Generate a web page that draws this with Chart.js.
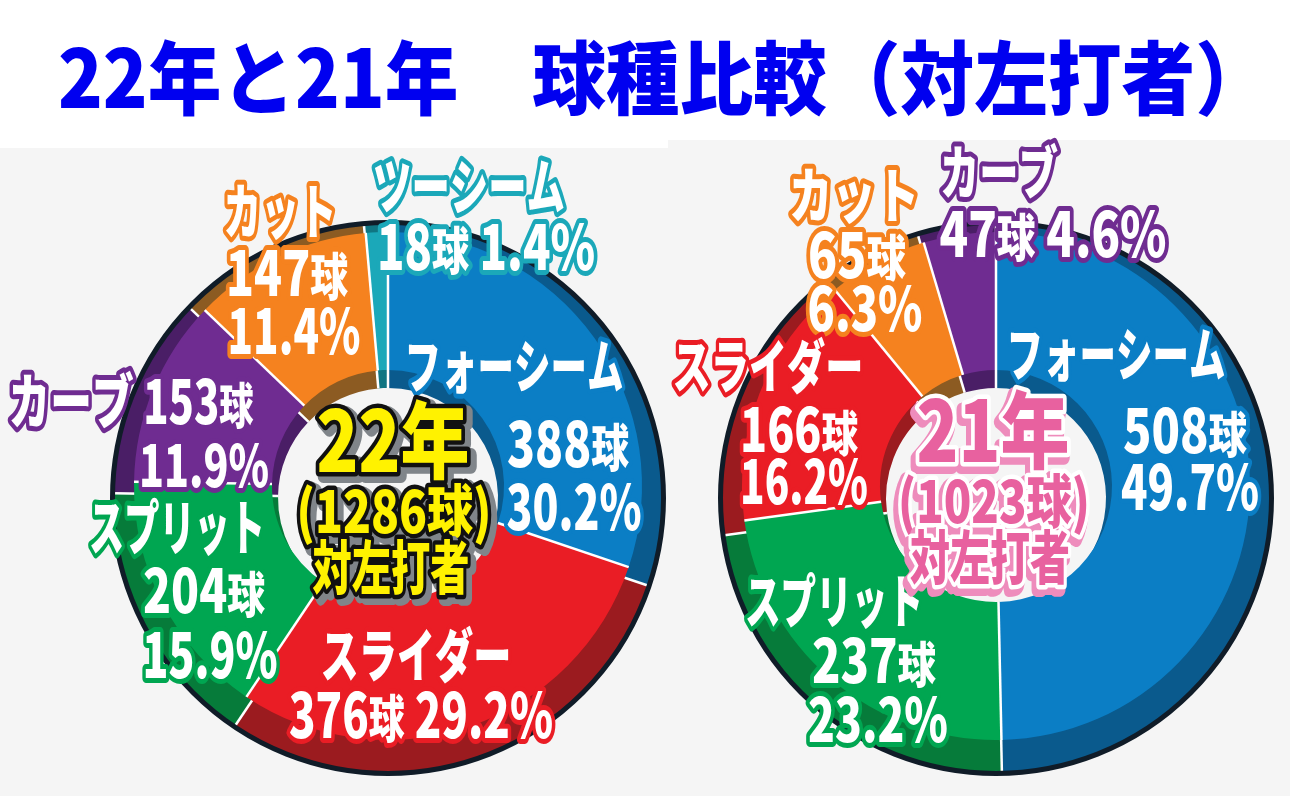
<!DOCTYPE html>
<html lang="ja">
<head>
<meta charset="utf-8">
<title>22年と21年 球種比較（対左打者）</title>
<script src="https://cdn.jsdelivr.net/npm/chart.js@4.4.0/dist/chart.umd.min.js"></script>
<style>
    html, body { margin: 0; padding: 0; background: #fff; }
    #wrap { position: relative; width: 1300px; height: 807px; overflow: hidden; background: #fff; }
    .panel { position: absolute; background: #f5f5f5; }
    #title {
        position: absolute; left: 58px; top: 28px; white-space: nowrap;
        font-family: "Noto Sans CJK JP", sans-serif; font-weight: 900;
        font-size: 80px; line-height: 90px; color: #0000f0; transform-origin: 0 0;
    }
    canvas { position: absolute; left: 0; top: 0; }
</style>
</head>
<body>
<div id="wrap">
    <div class="panel" style="left:0;top:148px;width:680px;height:648px"></div>
    <div class="panel" style="left:668px;top:140px;width:622px;height:656px"></div>
    <div id="title">22年と21年　球種比較（対左打者）</div>
    <canvas id="base22" width="1300" height="807"></canvas>
    <canvas id="face22" width="1300" height="807"></canvas>
    <canvas id="base21" width="1300" height="807"></canvas>
    <canvas id="face21" width="1300" height="807"></canvas>
</div>
<script>
// 22년 데이터 (12시 방향부터 시계방향)
const pitches22 = ['フォーシーム', 'スライダー', 'スプリット', 'カーブ', 'カット', 'ツーシーム'];
const counts22 = [388, 376, 204, 153, 147, 18];
const pcts22 = [30.2, 29.2, 15.9, 11.9, 11.4, 1.4];

// 21년 데이터
const pitches21 = ['フォーシーム', 'スプリット', 'スライダー', 'カット', 'カーブ'];
const counts21 = [508, 237, 166, 65, 47];
const pcts21 = [49.7, 23.2, 16.2, 6.3, 4.6];

const years = ['22', '21'];
const sideText = '対左打者';

// 구종별 색상 (윗면 / 어두운 옆면)
const faceColors = {
    'フォーシーム': '#0b7ec5',
    'スライダー': '#ea1d25',
    'スプリット': '#00a651',
    'カーブ': '#6f2c91',
    'カット': '#f5821f',
    'ツーシーム': '#1ba8b9'
};
const shadeColors = {
    'フォーシーム': '#0a5a8d',
    'スライダー': '#9b1b1f',
    'スプリット': '#067b3a',
    'カーブ': '#4a1e66',
    'カット': '#8c5b22',
    'ツーシーム': '#107582'
};

// 라벨 배치: [조각 번호, 내용, 중심x, 중심y, 폭, 글자크기]
const layout22 = [
    [4, 'name', 280, 212, 113, 60],
    [4, 'count', 287, 273, 122, 62],
    [4, 'pct', 294, 331, 133, 62],
    [5, 'name', 469, 187, 192, 60],
    [5, 'countPct', 486, 247, 218, 62],
    [0, 'name', 514, 367, 219, 58],
    [0, 'count', 568, 444, 122, 62],
    [0, 'pct', 574, 507, 135, 62],
    [3, 'nameCount', 131, 402, 245, 60],
    [3, 'pct', 204, 466, 130, 58],
    [2, 'name', 177, 528, 176, 60],
    [2, 'count', 204, 591, 122, 60],
    [2, 'pct', 210, 655, 135, 62],
    [1, 'name', 416, 656, 191, 58],
    [1, 'countPct', 421, 715, 264, 62]
];
const layout21 = [
    [3, 'name', 854, 196, 130, 60],
    [3, 'count', 857, 255, 98, 62],
    [3, 'pct', 865, 309, 115, 60],
    [4, 'name', 999, 173, 118, 58],
    [4, 'countPct', 1053, 234, 227, 62],
    [2, 'name', 768, 367, 191, 58],
    [2, 'count', 799, 430, 118, 60],
    [2, 'pct', 804, 482, 128, 60],
    [0, 'name', 1116, 355, 219, 58],
    [0, 'count', 1185, 431, 124, 60],
    [0, 'pct', 1190, 487, 138, 62],
    [1, 'name', 834, 602, 178, 58],
    [1, 'count', 874, 661, 124, 60],
    [1, 'pct', 878, 720, 140, 60]
];
// 가운데 글자 배치: [내용, 중심x, 중심y, 폭, 글자크기]
const center22 = [['year', 393, 441, 153, 84], ['total', 394, 512, 195, 58], ['side', 391, 568, 157, 58]];
const center21 = [['year', 993, 431, 153, 84], ['total', 994, 502, 192, 58], ['side', 990, 558, 160, 58]];

const fontOf = size => `900 ${size}px "Noto Sans CJK JP", "Noto Sans CJK SC", sans-serif`;

// 글자를 주어진 폭에 맞춰 장체로 그리기
function drawFit(ctx, text, cx, cy, w, size, small, passes) {
    const chars = [...text];
    const sizes = chars.map(c => (c === '球' ? size * small : size));
    let total = 0;
    const widths = chars.map((c, i) => {
        ctx.font = fontOf(sizes[i]);
        const m = ctx.measureText(c).width;
        total += m;
        return m;
    });
    const k = w / total; // 가로 배율
    const base = cy + size * 0.37; // 기준선
    passes.forEach(p => {
        let x = cx - w / 2;
        chars.forEach((c, i) => {
            ctx.save();
            ctx.font = fontOf(sizes[i]);
            ctx.translate(x + (p.dx || 0), base + (p.dy || 0));
            ctx.scale(k, 1);
            ctx.textAlign = 'left';
            ctx.textBaseline = 'alphabetic';
            ctx.lineJoin = 'round';
            if (p.stroke) {
                ctx.lineWidth = p.lw;
                ctx.strokeStyle = p.stroke;
                ctx.strokeText(c, 0, 0);
            } else {
                ctx.fillStyle = p.fill;
                ctx.fillText(c, 0, 0);
            }
            ctx.restore();
            x += widths[i] * k;
        });
    });
}

// 조각 사이 흰 선
const sepPlugin = {
    id: 'sep',
    afterDatasetsDraw(chart) {
        const ctx = chart.ctx;
        ctx.save();
        ctx.strokeStyle = '#ffffff';
        ctx.lineWidth = 2.5;
        chart.getDatasetMeta(0).data.forEach(arc => {
            const a = arc.startAngle;
            ctx.beginPath();
            ctx.moveTo(arc.x + Math.cos(a) * arc.innerRadius, arc.y + Math.sin(a) * arc.innerRadius);
            ctx.lineTo(arc.x + Math.cos(a) * arc.outerRadius, arc.y + Math.sin(a) * arc.outerRadius);
            ctx.stroke();
        });
        ctx.restore();
    }
};

// 바깥 남색 테두리
const rimPlugin = {
    id: 'rim',
    afterDatasetsDraw(chart) {
        const arc = chart.getDatasetMeta(0).data[0];
        const ctx = chart.ctx;
        ctx.save();
        ctx.beginPath();
        ctx.arc(arc.x, arc.y, arc.outerRadius + 1.5, 0, Math.PI * 2);
        ctx.lineWidth = 5;
        ctx.strokeStyle = '#101c28';
        ctx.stroke();
        ctx.restore();
    }
};

// 라벨 플러그인 생성
function labelPlugin(pitches, counts, pcts, layout, center, year, centerStyle) {
    const totalCount = counts.reduce((a, b) => a + b, 0);
    return {
        id: 'labels' + year,
        afterDraw(chart) {
            const ctx = chart.ctx;
            layout.forEach(([i, kind, cx, cy, w, size]) => {
                const name = pitches[i];
                const cnt = counts[i] + '球';
                const pct = pcts[i].toFixed(1) + '%';
                let text = name;
                if (kind === 'count') text = cnt;
                if (kind === 'pct') text = pct;
                if (kind === 'countPct') text = cnt + ' ' + pct;
                if (kind === 'nameCount') text = name + ' ' + cnt;
                drawFit(ctx, text, cx, cy, w, size, 0.82, [
                    { stroke: faceColors[name], lw: 10 },
                    { fill: '#ffffff' }
                ]);
            });
            center.forEach(([kind, cx, cy, w, size]) => {
                let text = sideText;
                if (kind === 'year') text = year + '年';
                if (kind === 'total') text = '(' + totalCount + '球)';
                drawFit(ctx, text, cx, cy, w, size, 1, centerStyle);
            });
        }
    };
}

// 도넛 차트 생성 (chartArea를 지름에 딱 맞춤)
function makeDonut(id, pitches, counts, colors, cx, cy, r, cutout, plugins) {
    return new Chart(document.getElementById(id), {
        type: 'doughnut',
        data: {
            labels: pitches,
            datasets: [{
                data: counts,
                backgroundColor: pitches.map(p => colors[p]),
                borderWidth: 0
            }]
        },
        options: {
            responsive: false,
            animation: false,
            devicePixelRatio: 1,
            events: [],
            cutout: cutout,
            layout: {
                padding: { left: cx - r, top: cy - r, right: 1300 - cx - r, bottom: 807 - cy - r }
            },
            plugins: { legend: { display: false }, tooltip: { enabled: false } }
        },
        plugins: plugins
    });
}

// 제목 폭 맞추기
const titleEl = document.getElementById('title');
titleEl.style.transform = `scaleX(${1211 / titleEl.offsetWidth})`;

const style22 = [
    { stroke: '#80858a', lw: 14, dx: 4, dy: 4 },
    { stroke: '#111111', lw: 9 },
    { fill: '#fff200' }
];
const style21 = [
    { stroke: '#ee8cbc', lw: 14, dx: -3, dy: 5 },
    { stroke: '#ffffff', lw: 9 },
    { fill: '#e8619f' }
];

// 22년: 어두운 옆면 + 윗면 (윗면을 조금 위로 올려 입체감)
makeDonut('base22', pitches22, counts22, shadeColors, 388, 498, 274, 110, [sepPlugin, rimPlugin]);
makeDonut('face22', pitches22, counts22, faceColors, 388, 486, 254, 116,
    [sepPlugin, labelPlugin(pitches22, counts22, pcts22, layout22, center22, years[0], style22)]);

// 21년
makeDonut('base21', pitches21, counts21, shadeColors, 996, 498, 274, 110, [sepPlugin, rimPlugin]);
makeDonut('face21', pitches21, counts21, faceColors, 996, 486, 254, 116,
    [sepPlugin, labelPlugin(pitches21, counts21, pcts21, layout21, center21, years[1], style21)]);
</script>
</body>
</html>
